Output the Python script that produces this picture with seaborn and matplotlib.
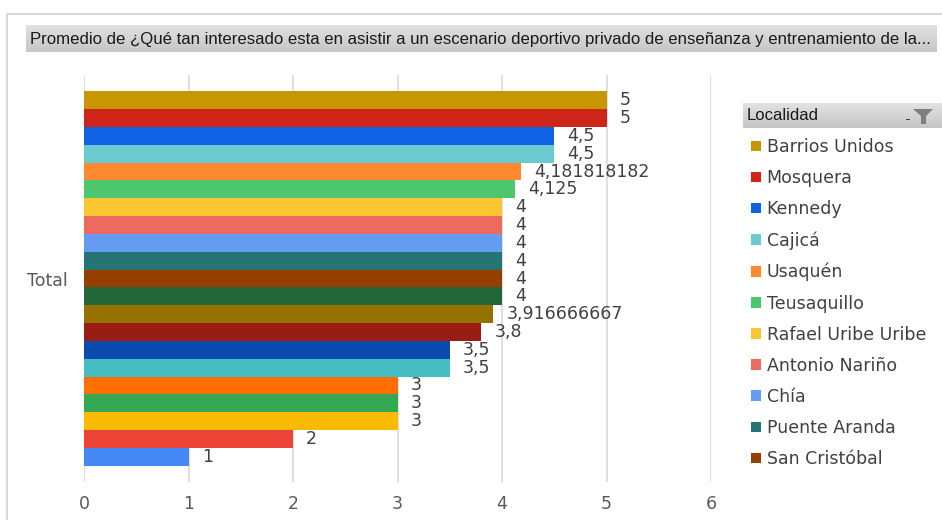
import numpy as np
import pandas as pd
import seaborn as sns
import matplotlib
matplotlib.use('Agg')
import matplotlib.pyplot as plt
from matplotlib.patches import Rectangle, Polygon

# data (one bar per locality, all under "Total")
localidades = ["Barrios Unidos", "Mosquera", "Kennedy", "Cajicá", "Usaquén",
               "Teusaquillo", "Rafael Uribe Uribe", "Antonio Nariño", "Chía",
               "Puente Aranda", "San Cristóbal", "Engativá", "Suba", "Fontibón",
               "Bosa", "Chapinero", "Ciudad Bolívar", "Soacha", "Funza",
               "Zipaquirá", "Tunjuelito"]
promedios = [5, 5, 4.5, 4.5, 4.181818182, 4.125, 4, 4, 4, 4, 4, 4,
             3.916666667, 3.8, 3.5, 3.5, 3, 3, 3, 2, 1]
colores = ["#C89600", "#D0261A", "#0F62E6", "#6BC9D0", "#FF8833", "#4CC76E",
           "#FCC633", "#EC6A5E", "#659CF2", "#267576", "#973F00", "#22663A",
           "#957100", "#9A1C14", "#0B4BB0", "#47BDC4", "#FF6F00", "#34A853",
           "#FABB05", "#EB4437", "#4388F5"]
x_ticks = [0, 1, 2, 3, 4, 5, 6]
titulo = ("Promedio de ¿Qué tan interesado esta en asistir a un escenario deportivo "
          "privado de enseñanza y entrenamiento de la...")
n_leyenda = 11  # the legend in the reference is cut after San Cristóbal

df = pd.DataFrame({"grupo": "Total", "Localidad": localidades, "valor": promedios})

W, H = 942, 520
fig = plt.figure(figsize=(W / 100, H / 100), dpi=100)
plt.rcParams['font.family'] = ['DejaVu Sans']
grad = np.linspace(0, 1, 50).reshape(-1, 1)
fs = 12.5


def barra_gris(x0, y0, x1, y1):
    # gray header strip with a soft vertical gradient (pixel coords, y from top)
    bx = fig.add_axes([x0 / W, 1 - y1 / H, (x1 - x0) / W, (y1 - y0) / H])
    bx.imshow(grad, aspect='auto', cmap=matplotlib.colors.LinearSegmentedColormap.from_list(
        'g', ['#e2e2e2', '#c6c6c6']), extent=(0, 1, 0, 1))
    bx.set_axis_off()
    return bx


# outer frame (only left / top visible)
fig.patches.append(Rectangle((7 / W, -0.1), 1.2, 1 - 14 / H + 0.1, transform=fig.transFigure,
                             facecolor='none', edgecolor='#d9d9d9', lw=1.5))

# title bar
barra_gris(26, 25, 937, 52)
fig.text(30 / W, 1 - 39.5 / H, titulo, ha='left', va='center', fontsize=12.05,
         color='#1a1a1a', family=['Liberation Sans', 'DejaVu Sans'])

ax = fig.add_axes([84 / W, 1 - 482 / H, (711 - 84) / W, (482 - 75) / H])
sns.barplot(data=df, x="valor", y="grupo", hue="Localidad", hue_order=localidades,
            palette=colores, orient='h', width=0.92, saturation=1, linewidth=0,
            legend=False, ax=ax)

for cont, v in zip(ax.containers, promedios):
    lab = f"{v:.10g}".replace('.', ',')
    ax.bar_label(cont, labels=[lab], padding=9.5, fontsize=fs, color='#404040',
                 clip_on=False)

ax.set_xlim(0, 6)
ax.set_xticks(x_ticks)
ax.set_xticklabels([str(t) for t in x_ticks])
ax.set_xlabel("")
ax.set_ylabel("")
for s in ax.spines.values():
    s.set_visible(False)
ax.grid(axis='x', color='#d9d9d9', lw=1.2)
ax.set_axisbelow(True)
ax.tick_params(axis='x', length=0, pad=9.5, labelsize=fs, labelcolor='#595959')
ax.tick_params(axis='y', length=0, pad=12, labelsize=fs, labelcolor='#595959')

# legend header
barra_gris(743, 103, 942, 128)
fig.text(747 / W, 1 - 116 / H, "Localidad", ha='left', va='center', fontsize=12,
         color='#1a1a1a', family=['Liberation Sans', 'DejaVu Sans'])
fig.patches.append(Polygon([(913 / W, 1 - 109 / H), (933 / W, 1 - 109 / H),
                            (926 / W, 1 - 116 / H), (926 / W, 1 - 124 / H),
                            (921 / W, 1 - 124 / H), (921 / W, 1 - 116 / H)],
                           closed=True, transform=fig.transFigure,
                           facecolor='#7f7f7f', edgecolor='none', zorder=5))
fig.patches.append(Rectangle((906 / W, 1 - 120 / H), 4 / W, 1.5 / H,
                             transform=fig.transFigure, facecolor='#404040', zorder=5))

handles = [c.patches[0] for c in ax.containers][:n_leyenda]
leg = ax.legend(handles, localidades[:n_leyenda], loc='upper left',
                bbox_to_anchor=(751 / W, 1 - 138 / H), bbox_transform=fig.transFigure,
                frameon=False, fontsize=fs, handlelength=0.55, handleheight=0.55,
                handletextpad=0.35, labelspacing=0.755, borderaxespad=0, borderpad=0)
for t in leg.get_texts():
    t.set_color('#404040')

fig.savefig("out.png", dpi=100)
